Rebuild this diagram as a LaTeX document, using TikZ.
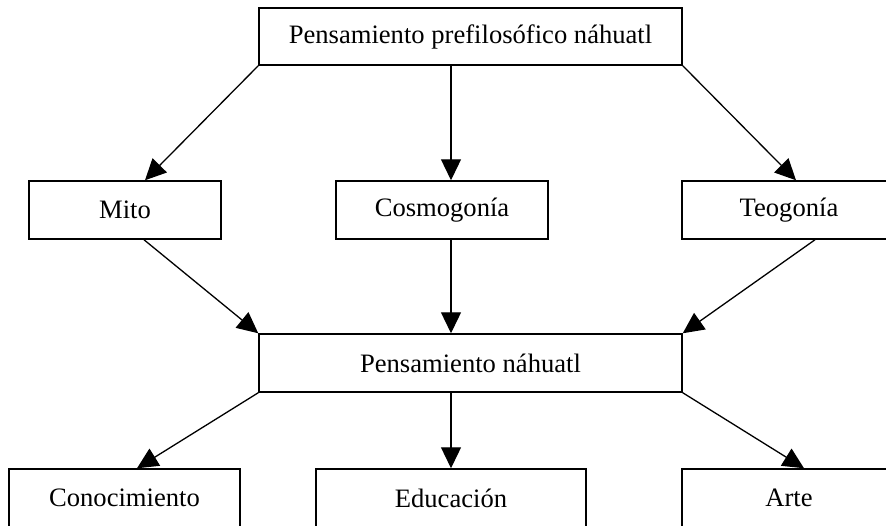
\documentclass[tikz,border=0pt]{standalone}
\usepackage{fontspec}
\setmainfont{Liberation Serif}
\usetikzlibrary{arrows.meta}
\begin{document}
\begin{tikzpicture}[x=0.5pt,y=-0.5pt,
  box/.style={draw=black,line width=0.75pt,rectangle,inner sep=0pt,minimum height=29pt,font=\fontsize{13.3pt}{15pt}\selectfont},
  conn/.style={draw=black,line width=0.65pt,-{Triangle[length=10.5pt,width=10pt]}}]
\clip (0,0) rectangle (886,525);
\fill[white] (0,0) rectangle (886,525);
\node[box,minimum width=211.5pt,minimum height=28.5pt] (top) at (470.5,36.5) {Pensamiento prefilosófico náhuatl};
\node[box,minimum width=96pt] (mito) at (125,210) {Mito};
\node[box,minimum width=106pt] (cosmo) at (442,210) {Cosmogonía};
\node[box,minimum width=107pt] (teo) at (789,210) {Teogonía};
\node[box,minimum width=211.5pt] (pn) at (470.5,363) {Pensamiento náhuatl};
\node[box,minimum width=115.5pt] (con) at (124.5,498) {Conocimiento};
\node[box,minimum width=135pt] (edu) at (451,498) {Educación};
\node[box,minimum width=107pt] (arte) at (789,498) {Arte};
\draw[conn] (top.south west) -- ([xshift=10pt]mito.north);
\draw[conn] (top.south -| edu.north) -- (cosmo.north -| edu.north);
\draw[conn] (top.south east) -- ([xshift=3.5pt]teo.north);
\draw[conn] ([xshift=9.5pt]mito.south) -- (pn.north west);
\draw[conn] (cosmo.south -| edu.north) -- (pn.north -| edu.north);
\draw[conn] ([xshift=13pt]teo.south) -- (pn.north east);
\draw[conn] (pn.south west) -- ([xshift=6.25pt]con.north);
\draw[conn] (pn.south -| edu.north) -- (edu.north);
\draw[conn] (pn.south east) -- ([xshift=7.5pt]arte.north);
\end{tikzpicture}
\end{document}
